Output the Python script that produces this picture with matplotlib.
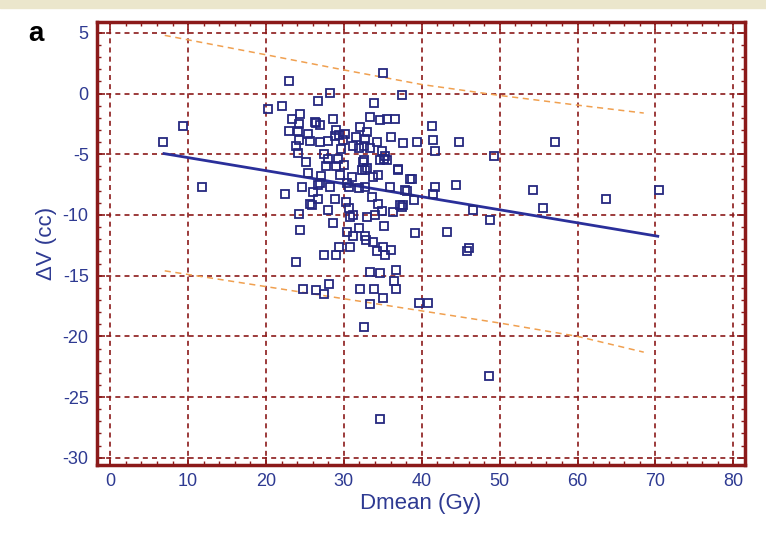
import matplotlib.pyplot as plt
from matplotlib.patches import Rectangle

# данные
dmean = [6.8, 9.3, 11.8, 20.3, 22.0, 23.0, 35.0, 28.2, 37.4, 26.7, 33.9, 24.4, 23.4, 26.4, 26.9,
         28.6, 33.3, 34.6, 35.5, 36.6, 41.3, 24.3, 23.0, 24.1, 25.4, 29.0, 28.9, 29.9, 30.1, 32.1,
         33.0, 31.6, 32.7, 34.3, 37.6, 39.4, 41.4, 41.7, 24.3, 25.6, 26.9, 27.9, 23.9, 24.1, 31.2,
         31.9, 32.6, 33.4, 34.9, 35.3, 34.7, 35.5, 27.4, 27.9, 29.2, 27.7, 29.0, 29.5, 32.6, 32.3,
         33.0, 34.4, 36.9, 38.7, 25.4, 22.4, 24.6, 26.7, 26.7, 28.2, 30.6, 32.7, 33.6, 35.9, 37.9,
         39.0, 41.7, 41.4, 28.9, 25.6, 30.3, 30.6, 34.4, 34.9, 36.3, 37.4, 24.3, 24.4, 28.6, 30.8,
         33.0, 35.1, 30.4, 31.9, 39.1, 43.2, 29.4, 30.8, 32.8, 33.8, 35.0, 34.2, 35.3, 36.1, 27.4,
         29.0, 23.9, 33.4, 34.6, 36.7, 36.4, 36.7, 24.8, 26.4, 27.4, 28.1, 32.1, 33.9, 35.0, 33.3,
         39.6, 40.8, 32.6, 34.6, 48.6, 44.8, 49.3, 57.1, 38.1, 37.6, 44.4, 46.6, 48.7, 54.3, 55.6,
         63.6, 70.5, 46.1, 45.8, 32.5, 35.1, 37.0, 32.7, 33.8, 30.4, 31.9, 38.5, 37.2, 31.2, 34.0,
         31.2, 32.7, 25.9, 26.9, 29.4, 26.3, 25.2, 26.0, 27.0, 28.0, 30.0, 31.0, 29.6, 36.0]
dv = [-4.0, -2.7, -7.7, -1.3, -1.05, 1.0, 1.7, 0.05, -0.1, -0.6, -0.8, -1.65, -2.1, -2.4, -2.6,
      -2.1, -1.9, -2.2, -2.1, -2.1, -2.7, -2.5, -3.1, -3.1, -3.3, -3.0, -3.5, -3.85, -3.35, -2.75,
      -3.2, -3.6, -3.7, -4.0, -4.1, -4.0, -3.85, -4.7, -3.8, -3.9, -4.0, -3.9, -4.3, -4.9, -4.3,
      -4.45, -4.3, -4.5, -4.7, -5.1, -5.5, -5.5, -5.0, -5.4, -5.4, -6.0, -6.0, -6.7, -5.5, -6.3,
      -6.1, -6.7, -6.2, -7.0, -6.5, -8.3, -7.7, -7.5, -8.7, -7.7, -7.7, -7.7, -8.5, -7.7, -7.9,
      -8.8, -7.7, -8.3, -8.65, -9.1, -8.9, -9.4, -9.1, -9.7, -9.75, -9.3, -9.9, -11.2, -10.7, -10.2,
      -10.2, -10.9, -11.4, -11.1, -11.5, -11.4, -12.6, -12.6, -12.1, -12.2, -12.6, -13.0, -13.3, -12.9, -13.3,
      -13.3, -13.9, -14.7, -14.8, -14.5, -15.4, -16.1, -16.1, -16.2, -16.5, -15.7, -16.1, -16.1, -16.8, -17.3,
      -17.25, -17.25, -19.2, -26.8, -23.3, -4.0, -5.1, -4.0, -8.0, -9.2, -7.55, -9.55, -10.4, -7.9, -9.4,
      -8.7, -7.9, -12.7, -13.0, -5.6, -5.35, -6.3, -6.3, -6.9, -7.4, -7.8, -7.06, -9.2, -10.0, -10.0,
      -11.7, -11.7, -9.2, -7.4, -3.4, -2.3, -5.6, -8.1, -6.8, -9.6, -5.9, -6.9, -4.6, -3.6]

# линия регрессии (концы)
fit_x = [6.9, 70.3]
fit_y = [-4.94, -11.75]

# границы интервала предсказания
band_x = [7, 20, 30, 40, 50, 60, 68.5]
band_upper = [4.8, 3.2, 1.95, 0.75, -0.15, -0.95, -1.6]
band_lower = [-14.6, -15.9, -16.9, -17.9, -18.9, -20.0, -21.3]

x_ticks = [0, 10, 20, 30, 40, 50, 60, 70, 80]
y_ticks = [5, 0, -5, -10, -15, -20, -25, -30]

red = "#8b1a1a"
blue = "#2e3a92"

plt.rcParams['font.family'] = ['Liberation Sans Narrow', 'Liberation Sans', 'DejaVu Sans']
plt.rcParams['axes.unicode_minus'] = False

fig = plt.figure(figsize=(7.66, 5.42), dpi=100)
fig.patches.append(Rectangle((0, 0.985), 1, 0.015, transform=fig.transFigure,
                             color="#ebe6cc", zorder=0))
ax = fig.add_axes([0.1266, 0.142, 0.846, 0.8174])

ax.plot(band_x, band_upper, color="#f0a050", lw=1.1, ls=(0, (4, 3)), zorder=2)
ax.plot(band_x, band_lower, color="#f0a050", lw=1.1, ls=(0, (4, 3)), zorder=2)
ax.plot(fit_x, fit_y, color="#2a2f9a", lw=2, zorder=3)
ax.plot(dmean, dv, ls="none", marker="s", ms=5.5, mfc="none", mec="#25287f", mew=1.3, zorder=4)

ax.set_xlim(-1.7, 81.5)
ax.set_ylim(-30.6, 5.9)
ax.set_xticks(x_ticks)
ax.set_yticks(y_ticks)
ax.set_xticks(range(0, 82, 2), minor=True)
ax.set_yticks(range(-30, 6), minor=True)
ax.grid(True, which="major", color=red, ls=(0, (3, 2.5)), lw=1.2)
ax.set_axisbelow(True)

for s in ax.spines.values():
    s.set_color(red)
    s.set_linewidth(2.5)
ax.tick_params(which="both", direction="in", color=red, top=True, right=True)
ax.tick_params(which="major", length=6, width=1.2, labelsize=13, labelcolor=blue, pad=6)
ax.tick_params(which="minor", length=3, width=1)

ax.set_xlabel("Dmean (Gy)", fontsize=16, color=blue, labelpad=2)
ax.set_ylabel("ΔV (cc)", fontsize=16, color=blue, labelpad=4)
fig.text(0.037, 0.925, "a", fontsize=20, fontweight="bold", color="black",
         family=['Liberation Sans', 'DejaVu Sans'])

plt.savefig("out.png", dpi=100)
